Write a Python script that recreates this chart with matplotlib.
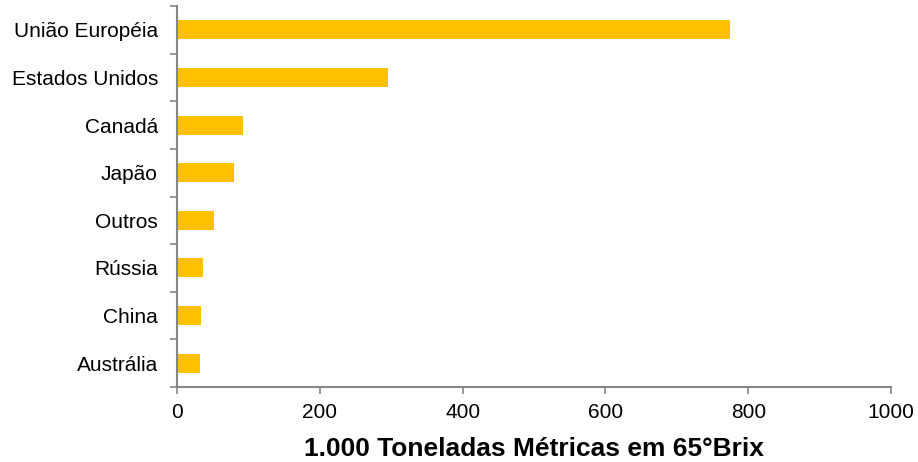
import matplotlib
matplotlib.use("Agg")
import matplotlib.pyplot as plt

## Data
countries = ["União Européia", "Estados Unidos", "Canadá", "Japão",
             "Outros", "Rússia", "China", "Austrália"]
volumes = [775, 295, 92, 80, 52, 36, 33, 32]  # 1.000 t métricas em 65°Brix
x_ticks = [0, 200, 400, 600, 800, 1000]

BAR_COLOR = "#FFC000"
AXIS_COLOR = "#868686"

plt.rcParams["font.family"] = ["Liberation Sans", "DejaVu Sans"]

fig = plt.figure(figsize=(9.18, 4.62), dpi=100)
ax = fig.add_axes([177 / 918, 1 - 387 / 462, (891 - 177) / 918, (387 - 6) / 462])

pos = list(range(len(countries)))
ax.barh(pos, volumes, height=0.4, color=BAR_COLOR, edgecolor="none")

ax.set_xlim(0, 1000)
ax.set_ylim(len(countries) - 0.5, -0.5)
ax.set_xticks(x_ticks)
ax.set_xticklabels([str(t) for t in x_ticks], fontsize=15)

# category labels sit between the boundary tick marks
ax.set_yticks([p + 0.5 for p in range(-1, len(countries))])
ax.set_yticklabels([])
ax.set_yticks(pos, minor=True)
ax.set_yticklabels(countries, minor=True, fontsize=15)
ax.tick_params(axis="y", which="minor", length=0, pad=13.7)
ax.tick_params(axis="y", which="major", length=5, width=1.2, color=AXIS_COLOR)
ax.tick_params(axis="x", length=5, width=1.2, color=AXIS_COLOR, pad=6.5)

for side in ["top", "right"]:
    ax.spines[side].set_visible(False)
for side in ["left", "bottom"]:
    ax.spines[side].set_color(AXIS_COLOR)
    ax.spines[side].set_linewidth(1.5)

ax.set_xlabel("1.000 Toneladas Métricas em 65°Brix", fontsize=19,
              fontweight="bold", labelpad=11)

fig.savefig("out.png", dpi=100)
